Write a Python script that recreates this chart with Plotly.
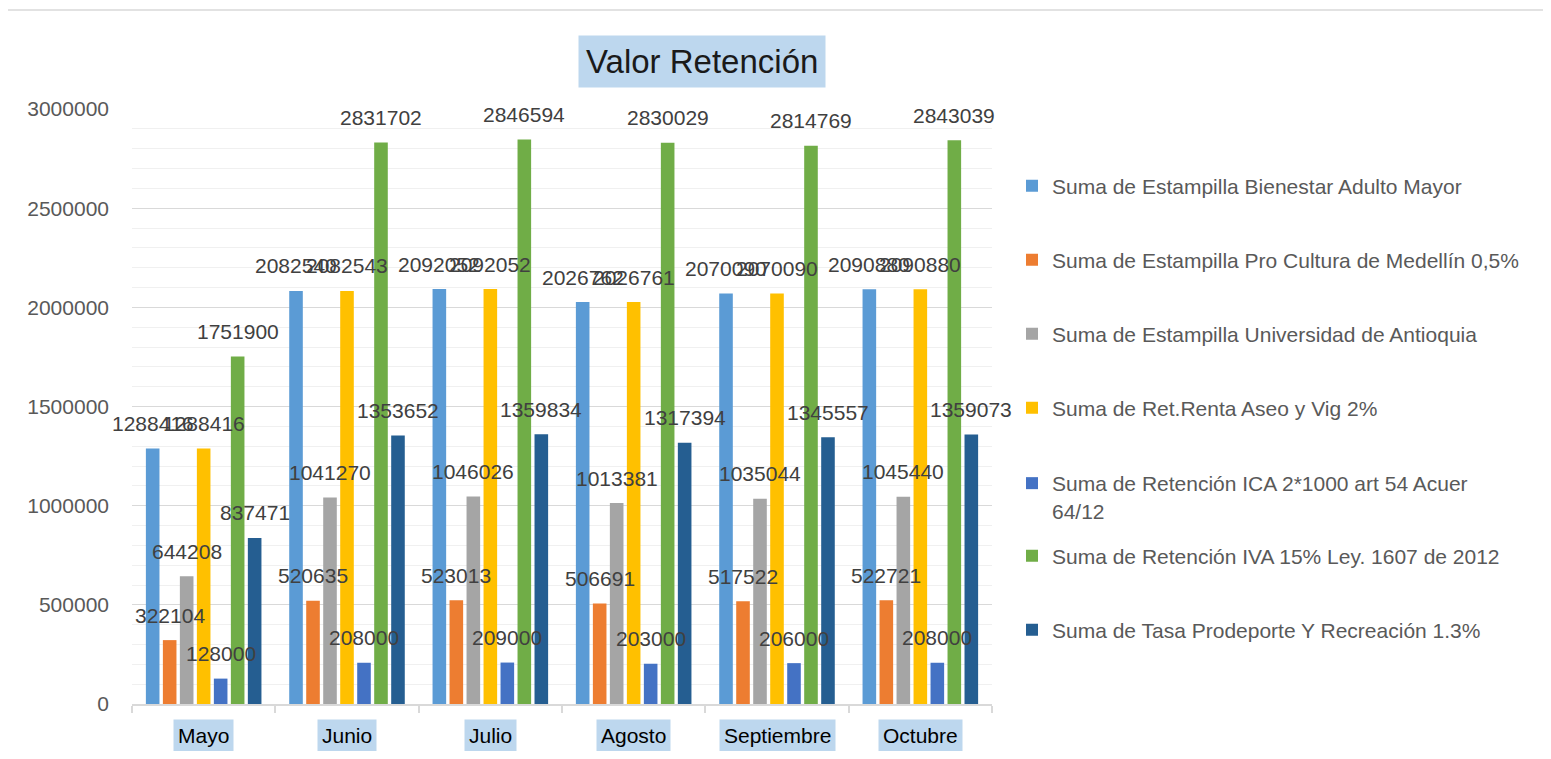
import plotly.graph_objects as go

categories = ["Mayo", "Junio", "Julio", "Agosto", "Septiembre", "Octubre"]

series_names = [
    "Suma de Estampilla Bienestar Adulto Mayor",
    "Suma de Estampilla Pro Cultura de Medellín 0,5%",
    "Suma de Estampilla Universidad de Antioquia",
    "Suma de Ret.Renta Aseo y Vig 2%",
    "Suma de Retención ICA 2*1000 art 54 Acuer<br>64/12",
    "Suma de Retención IVA 15% Ley. 1607 de 2012",
    "Suma de Tasa Prodeporte Y Recreación 1.3%",
]

adulto_mayor = [1288416, 2082540, 2092052, 2026762, 2070090, 2090880]
pro_cultura = [322104, 520635, 523013, 506691, 517522, 522721]
universidad = [644208, 1041270, 1046026, 1013381, 1035044, 1045440]
ret_renta = [1288416, 2082543, 2092052, 2026761, 2070090, 2090880]
ica = [128000, 208000, 209000, 203000, 206000, 208000]
iva = [1751900, 2831702, 2846594, 2830029, 2814769, 2843039]
prodeporte = [837471, 1353652, 1359834, 1317394, 1345557, 1359073]

series_values = [adulto_mayor, pro_cultura, universidad, ret_renta, ica, iva, prodeporte]
colors = ["#5B9BD5", "#ED7D31", "#A5A5A5", "#FFC000", "#4472C4", "#70AD47", "#255E91"]

y_ticks = [0, 500000, 1000000, 1500000, 2000000, 2500000, 3000000]

FONT = "Liberation Sans"
BARGAP = 0.17
GROUPGAP = 0.2

# page offset caused by the default body margin of the html page
OFF = 8
# plot-area geometry in page pixels
L, R, T, B = 132 - OFF, 992 - OFF, 109 - OFF, 704 - OFF
W, H = 1551 - 2 * OFF, 759 - 2 * OFF

def py(ypage):
    return (B - (ypage - OFF)) / (B - T)

def px(xpage):
    return ((xpage - OFF) - L) / (R - L)

legend_y_page = [186, 260, 334, 408, 482, 556, 630]

fig = go.Figure()
n = len(series_values)
for i, (name, vals, col) in enumerate(zip(series_names, series_values, colors)):
    lg = "legend" if i == 0 else f"legend{i+1}"
    fig.add_trace(go.Bar(
        name=name, x=categories, y=vals,
        marker=dict(color=col, line=dict(width=0)),
        legend=lg,
        hoverinfo="x+y+name",
    ))

# data labels above each bar
annotations = []
slot = (1 - BARGAP) / n
for i, vals in enumerate(series_values):
    for j, v in enumerate(vals):
        xc = j - (1 - BARGAP) / 2 + slot * (i + 0.5)
        annotations.append(dict(
            x=xc, y=v, xref="x", yref="y", text=str(v), showarrow=False,
            yanchor="middle", yshift=25,
            font=dict(family=FONT, size=21, color="#404040"),
        ))

# category labels with highlighted background
for j, c in enumerate(categories):
    annotations.append(dict(
        x=c, y=0, xref="x", yref="paper", text=c, showarrow=False,
        yanchor="middle", yshift=-31, bgcolor="#BDD7EE", borderpad=4,
        font=dict(family=FONT, size=21, color="#000000"),
    ))

# title
annotations.append(dict(
    x=px(701.5), y=1, xref="paper", yref="paper", text="Valor Retención",
    showarrow=False, yanchor="middle", yshift=48, bgcolor="#BDD7EE", borderpad=7,
    font=dict(family=FONT, size=33, color="#1a1a1a"),
))

legend_layout = {}
for i in range(n):
    key = "legend" if i == 0 else f"legend{i+1}"
    if i == 4:
        ycen = py((482 + 512) / 2)
    else:
        ycen = py(legend_y_page[i])
    legend_layout[key] = dict(
        x=px(1012), y=ycen, xanchor="left", yanchor="middle",
        font=dict(family=FONT, size=21, color="#595959"),
        bgcolor="rgba(0,0,0,0)", borderwidth=0, valign="top",
        itemclick=False, itemdoubleclick=False,
    )

fig.update_layout(
    width=W, height=H,
    margin=dict(l=L, r=W - R, t=T, b=H - B),
    paper_bgcolor="white", plot_bgcolor="white",
    barmode="group", bargap=BARGAP, bargroupgap=GROUPGAP,
    showlegend=True,
    font=dict(family=FONT, size=21, color="#595959"),
    annotations=annotations,
    shapes=[dict(
        type="rect", xref="paper", yref="paper",
        x0=px(7), x1=px(1600), y0=py(800), y1=py(10),
        line=dict(color="#D9D9D9", width=1.5), fillcolor="rgba(0,0,0,0)", layer="below",
    )],
    **legend_layout,
)

fig.update_yaxes(
    range=[0, 3000000], tickvals=y_ticks, ticktext=[str(t) for t in y_ticks],
    showgrid=True, gridcolor="#D9D9D9", gridwidth=1,
    minor=dict(dtick=100000, showgrid=True, gridcolor="#F0F0F0", gridwidth=1),
    zeroline=False, showline=False, ticks="",
    tickfont=dict(family=FONT, size=21, color="#595959"),
    ticklabelstandoff=22, fixedrange=True,
)
fig.update_xaxes(
    range=[-0.5, len(categories) - 0.5], autorange=False,
    showline=True, linecolor="#D9D9D9", linewidth=1.5,
    ticks="outside", tickson="boundaries", ticklen=7, tickcolor="#D9D9D9", tickwidth=1.5,
    showticklabels=False, showgrid=False, fixedrange=True,
)

fig.write_html("out.html", config={"displayModeBar": False})
